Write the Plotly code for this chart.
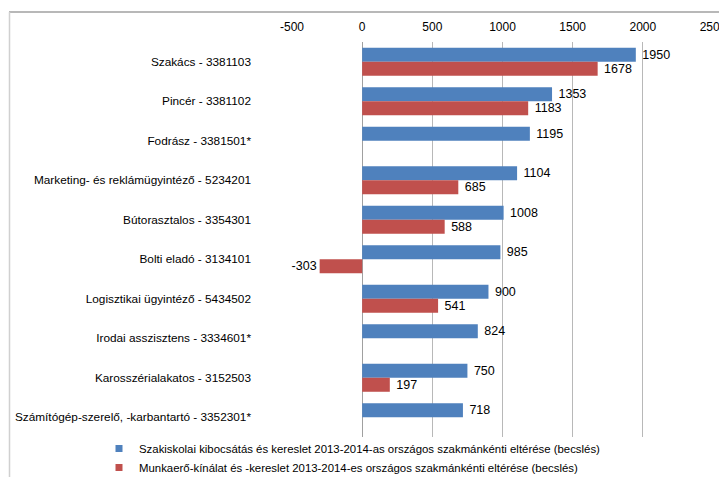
import plotly.graph_objects as go

categories = [
    "Szakács - 3381103",
    "Pincér - 3381102",
    "Fodrász - 3381501*",
    "Marketing- és reklámügyintéző - 5234201",
    "Bútorasztalos - 3354301",
    "Bolti eladó - 3134101",
    "Logisztikai ügyintéző - 5434502",
    "Irodai asszisztens - 3334601*",
    "Karosszérialakatos - 3152503",
    "Számítógép-szerelő, -karbantartó - 3352301*",
]
series1_name = "Szakiskolai kibocsátás és kereslet 2013-2014-as országos szakmánkénti eltérése (becslés)"
series2_name = "Munkaerő-kínálat és -kereslet 2013-2014-es országos szakmánkénti eltérése (becslés)"
series1 = [1950, 1353, 1195, 1104, 1008, 985, 900, 824, 750, 718]
series2 = [1678, 1183, None, 685, 588, -303, 541, None, 197, None]
tick_vals = [-500, 0, 500, 1000, 1500, 2000, 2500]
tick_text = ["-500", "0", "500", "1000", "1500", "2000", "2500"]

font = "Liberation Sans, Arial, sans-serif"
blue = "#4f81bd"
red = "#c0504d"


def label(v):
    if v is None:
        return ""
    return (" " + str(v)) if v >= 0 else str(v)


fig = go.Figure()
fig.add_trace(go.Bar(
    y=categories, x=series1, orientation="h", name=series1_name,
    marker=dict(color=blue, line=dict(width=0)), showlegend=False,
    text=[label(v) for v in series1], textposition="outside",
    textfont=dict(size=12.5, color="black", family=font), cliponaxis=False,
))
fig.add_trace(go.Bar(
    y=categories, x=series2, orientation="h", name=series2_name,
    marker=dict(color=red, line=dict(width=0)), showlegend=False,
    text=[label(v) for v in series2], textposition="outside",
    textfont=dict(size=12.5, color="black", family=font), cliponaxis=False,
))
# legend entries (small square keys)
for nm, col in [(series1_name, blue), (series2_name, red)]:
    fig.add_trace(go.Scatter(
        x=[None], y=[None], mode="markers", name=nm,
        marker=dict(symbol="square", size=7, color=col),
        showlegend=True, hoverinfo="skip",
    ))

# page body has an 8px margin; figure coordinates are screen - 8
OFF = 8
W, H = 727 - OFF, 477 - OFF
L, R, T, B = 292 - OFF, 713 - OFF, 42 - OFF, 437 - OFF
pw, ph = R - L, B - T


def px(x):
    return (x - OFF - L) / pw


def py(y):
    return (B - (y - OFF)) / ph


fig.update_layout(
    template="none",
    width=W, height=H,
    margin=dict(l=L, r=W - R, t=T, b=H - B, pad=0, autoexpand=False),
    paper_bgcolor="white", plot_bgcolor="white",
    barmode="group", bargap=0.29, bargroupgap=0.0,
    font=dict(family=font, size=11.8, color="black"),
    showlegend=True,
    legend=dict(
        x=px(99), y=py(434), xanchor="left", yanchor="top",
        orientation="v", font=dict(size=11.4, family=font),
        itemwidth=30, tracegroupgap=0, bgcolor="rgba(0,0,0,0)",
        traceorder="normal", borderwidth=0,
    ),
    xaxis=dict(
        side="top", range=[-500, 2500], tickmode="array",
        tickvals=tick_vals, ticktext=tick_text,
        showgrid=True, gridcolor="#b8b8b8", gridwidth=1,
        zeroline=True, zerolinecolor="#a0a0a0", zerolinewidth=1,
        showline=False, ticks="", automargin=False,
        ticklabelstandoff=8,
        tickfont=dict(size=12, family=font), fixedrange=True,
    ),
    yaxis=dict(
        autorange="reversed", showgrid=False, zeroline=False,
        showline=False, ticks="", ticklabelstandoff=40, automargin=False,
        tickfont=dict(size=11.8, family=font), fixedrange=True,
    ),
    shapes=[
        dict(type="line", xref="paper", yref="paper",
             x0=px(9), x1=px(760), y0=py(12), y1=py(12),
             line=dict(color="#a0a0a0", width=1.5)),
        dict(type="line", xref="paper", yref="paper",
             x0=px(9.5), x1=px(9.5), y0=py(12), y1=py(500),
             line=dict(color="#d0d0d0", width=1.5)),
    ],
)

fig.write_html("out.html")
